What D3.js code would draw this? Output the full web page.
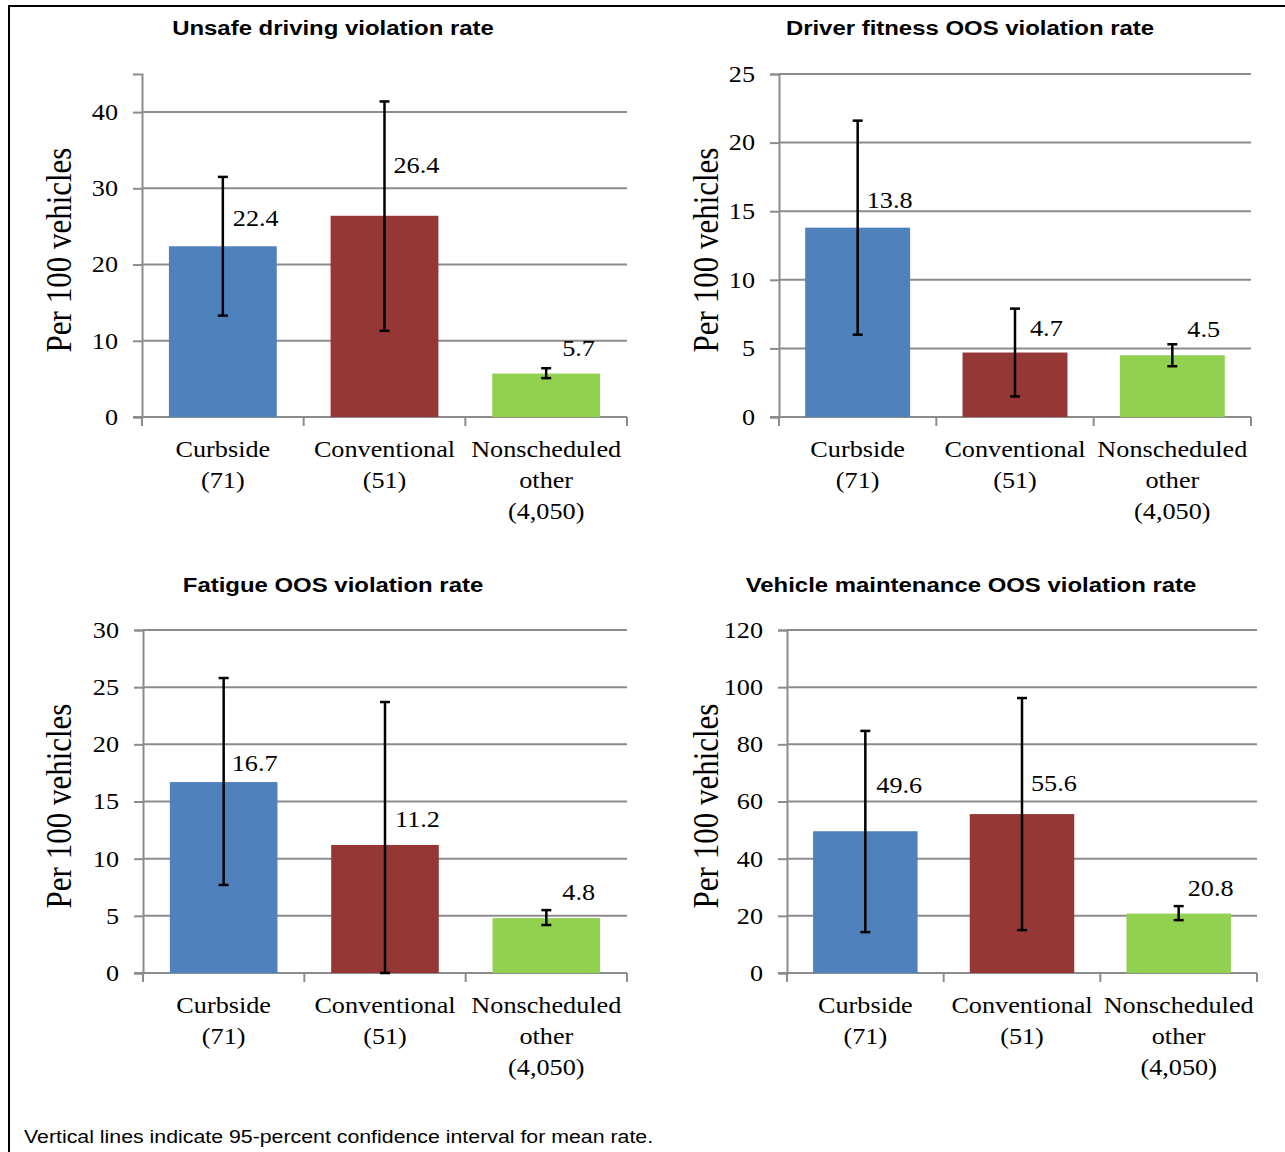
<!DOCTYPE html>
<html lang="en">
  <head>
    <meta charset="UTF-8" />
    <title>Violation rates by carrier type</title>
    <script src="https://cdn.jsdelivr.net/npm/d3@7"></script>
    <style>
      body { margin: 0; background: #fff; }
      svg { display: block; }
    </style>
  </head>
  <body>
    <div id="main-div"></div>
    <script>
      // categories, shared by all four panels
      const categories = [
        ["Curbside", "(71)"],
        ["Conventional", "(51)"],
        ["Nonscheduled", "other", "(4,050)"],
      ];
      const barColors = ["#4f81bd", "#953735", "#92d050"];

      // panel titles
      const titles = [
        "Unsafe driving violation rate",
        "Driver fitness OOS violation rate",
        "Fatigue OOS violation rate",
        "Vehicle maintenance OOS violation rate",
      ];

      // mean rates and 95% confidence bounds, per 100 vehicles
      const unsafeRate = [22.4, 26.4, 5.7];
      const unsafeLow = [13.3, 11.3, 5.1];
      const unsafeHigh = [31.5, 41.4, 6.4];

      const fitnessRate = [13.8, 4.7, 4.5];
      const fitnessLow = [6.0, 1.5, 3.7];
      const fitnessHigh = [21.6, 7.9, 5.3];

      const fatigueRate = [16.7, 11.2, 4.8];
      const fatigueLow = [7.7, 0.0, 4.2];
      const fatigueHigh = [25.8, 23.7, 5.5];

      const maintRate = [49.6, 55.6, 20.8];
      const maintLow = [14.3, 15.0, 18.5];
      const maintHigh = [84.7, 96.2, 23.4];

      // y axis: max and tick step per panel
      const axisMax = [45, 25, 30, 120];
      const tickStep = [10, 5, 5, 20];

      const footnote = "Vertical lines indicate 95-percent confidence interval for mean rate.";

      const W = 1285, H = 1152;
      const sx = 1.14; // the source picture is a little wider than tall
      const serif = "'Liberation Serif', 'Times New Roman', serif";
      const sans = "'Liberation Sans', Arial, sans-serif";

      let svg = d3.select("#main-div").append("svg")
        .attr("width", W).attr("height", H);

      // frame (left and top edge only)
      svg.append("path")
        .attr("d", `M9,${H} L9,6 L${W},6`)
        .attr("fill", "none").attr("stroke", "#000").attr("stroke-width", 2);

      // panel frames; lift/dx place the data labels like the hand-placed ones
      const panels = [
        { rate: unsafeRate, low: unsafeLow, high: unsafeHigh, x0: 142, x1: 627, yb: 417, yt: 74, tx: 333, ty: 35, lx: 60, ly: 250,
          lift: [28, 51, 26], dx: [10, 9, 16] },
        { rate: fitnessRate, low: fitnessLow, high: fitnessHigh, x0: 779, x1: 1251, yb: 417, yt: 74, tx: 970, ty: 35, lx: 707, ly: 250,
          lift: [28, 25, 26], dx: [9, 15, 15] },
        { rate: fatigueRate, low: fatigueLow, high: fatigueHigh, x0: 143, x1: 627, yb: 973, yt: 630, tx: 333, ty: 592, lx: 60, ly: 806,
          lift: [19, 26, 26], dx: [8, 10, 16] },
        { rate: maintRate, low: maintLow, high: maintHigh, x0: 787, x1: 1257, yb: 973, yt: 630, tx: 971, ty: 592, lx: 707, ly: 806,
          lift: [46, 31, 26], dx: [11, 9, 9] },
      ];

      panels.forEach((p, i) => {
        let g = svg.append("g");

        let x = d3.scaleBand()
          .domain(d3.range(categories.length))
          .range([p.x0, p.x1])
          .paddingInner(0.333)
          .paddingOuter(0.1665);

        let y = d3.scaleLinear().domain([0, axisMax[i]]).range([p.yb, p.yt]);
        let ticks = d3.range(0, axisMax[i] + 0.001, tickStep[i]);

        // title
        g.append("text")
          .attr("transform", `translate(${p.tx},${p.ty}) scale(${sx},1)`)
          .attr("text-anchor", "middle")
          .attr("font-family", sans)
          .attr("font-weight", "bold")
          .attr("font-size", 21)
          .text(titles[i]);

        // gridlines
        g.selectAll(".grid")
          .data(ticks.filter((t) => t > 0))
          .join("line")
          .attr("x1", p.x0).attr("x2", p.x1)
          .attr("y1", (d) => y(d)).attr("y2", (d) => y(d))
          .attr("stroke", "#8c8c8c").attr("stroke-width", 2);

        // y axis
        let yAxis = g.append("g")
          .attr("transform", `translate(${p.x0},0)`)
          .call(d3.axisLeft(y).tickValues(ticks).tickSize(9).tickPadding(12).tickFormat(d3.format("d")));
        yAxis.select(".domain").attr("stroke", "#8c8c8c").attr("stroke-width", 2);
        yAxis.selectAll(".tick line").attr("stroke", "#8c8c8c").attr("stroke-width", 2);
        yAxis.selectAll(".tick text")
          .attr("font-family", serif).attr("font-size", 23).attr("fill", "#000")
          .attr("transform", `scale(${sx},1)`);

        // x axis
        let xAxis = g.append("g").attr("transform", `translate(0,${p.yb})`);
        xAxis.append("line")
          .attr("x1", p.x0 - 9).attr("x2", p.x1)
          .attr("stroke", "#8c8c8c").attr("stroke-width", 2);
        let bounds = d3.range(categories.length + 1).map((k) => p.x0 + k * x.step());
        xAxis.selectAll(".xt").data(bounds).join("line")
          .attr("x1", (d) => d).attr("x2", (d) => d)
          .attr("y1", 0).attr("y2", 9)
          .attr("stroke", "#8c8c8c").attr("stroke-width", 2);

        categories.forEach((lines, k) => {
          let t = xAxis.append("text")
            .attr("transform", `translate(${x(k) + x.bandwidth() / 2},40) scale(${sx},1)`)
            .attr("text-anchor", "middle")
            .attr("font-family", serif).attr("font-size", 23);
          lines.forEach((s, j) => {
            t.append("tspan").attr("x", 0).attr("y", j * 31).text(s);
          });
        });

        // y axis title
        g.append("text")
          .attr("transform", `translate(${p.lx + 11},${p.ly}) scale(${sx},1) rotate(-90)`)
          .attr("text-anchor", "middle")
          .attr("font-family", serif).attr("font-size", 31)
          .text("Per 100 vehicles");

        // bars
        g.selectAll(".bar").data(p.rate).join("rect")
          .attr("x", (d, k) => x(k))
          .attr("width", x.bandwidth())
          .attr("y", (d) => y(d))
          .attr("height", (d) => p.yb - y(d))
          .attr("fill", (d, k) => barColors[k]);

        // error bars
        let cx = (k) => x(k) + x.bandwidth() / 2;
        p.rate.forEach((d, k) => {
          let eb = g.append("g").attr("stroke", "#000").attr("stroke-width", 2.5);
          eb.append("line").attr("x1", cx(k)).attr("x2", cx(k))
            .attr("y1", y(p.low[k])).attr("y2", y(p.high[k]));
          [p.low[k], p.high[k]].forEach((v) => {
            eb.append("line").attr("x1", cx(k) - 5).attr("x2", cx(k) + 5)
              .attr("y1", y(v)).attr("y2", y(v));
          });
        });

        // value labels
        g.selectAll(".val").data(p.rate).join("text")
          .attr("transform", (d, k) => `translate(${cx(k) + p.dx[k]},${y(d) - p.lift[k] + 8}) scale(${sx},1)`)
          .attr("font-family", serif).attr("font-size", 23)
          .text((d) => d.toFixed(1));
      });

      svg.append("text")
        .attr("transform", `translate(24,1143) scale(${sx},1)`)
        .attr("font-family", sans).attr("font-size", 18.7)
        .text(footnote);
    </script>
  </body>
</html>
